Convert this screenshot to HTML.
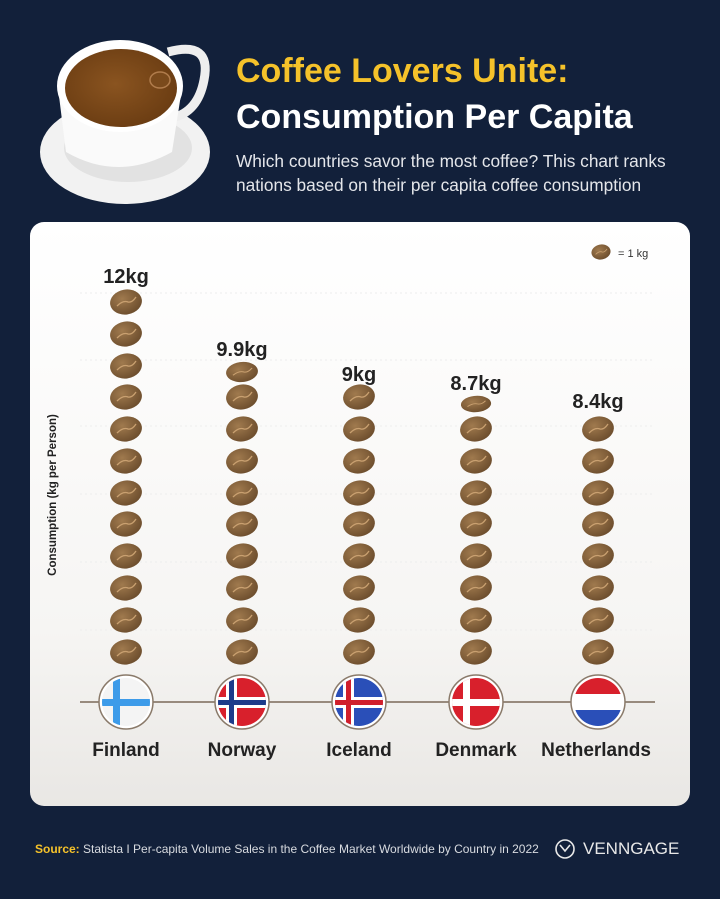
<!DOCTYPE html>
<html><head><meta charset="utf-8"><style>
*{margin:0;padding:0;box-sizing:border-box}
body{width:720px;height:899px;background:#12203a;font-family:"Liberation Sans",sans-serif;position:relative;overflow:hidden}
.t{position:absolute;white-space:nowrap}
</style></head><body>
<svg class="t" style="left:0;top:0" width="720" height="899">
<defs>
<radialGradient id="bean" cx="40%" cy="35%" r="70%"><stop offset="0" stop-color="#a07a4e"/><stop offset="1" stop-color="#6b4c2c"/></radialGradient>
<linearGradient id="card" x1="0" y1="0" x2="0" y2="1"><stop offset="0" stop-color="#ffffff"/><stop offset="0.7" stop-color="#f6f5f3"/><stop offset="1" stop-color="#e9e7e4"/></linearGradient>
<radialGradient id="cof" cx="45%" cy="45%" r="60%"><stop offset="0" stop-color="#8a5420"/><stop offset="1" stop-color="#6a3c12"/></radialGradient>
<g id="b"><ellipse cx="0" cy="0" rx="16" ry="12.5" fill="url(#bean)" transform="rotate(-10)"/><path d="M-9 4 Q-3 -2 2 0 Q6 1 10 -5" stroke="#c9a070" stroke-width="1.3" fill="none"/></g>
</defs>
<!-- cup -->
<ellipse cx="125" cy="152" rx="85" ry="52" fill="#f2f2f2"/>
<ellipse cx="128" cy="148" rx="64" ry="34" fill="#e2e2e2"/>
<path d="M168 52 Q212 40 204 80 Q198 112 172 118" stroke="#eeeeee" stroke-width="9" fill="none"/>
<path d="M58 88 L66 152 Q118 182 172 152 L182 88 Z" fill="#fafafa"/>
<ellipse cx="120" cy="86" rx="63" ry="46" fill="#ffffff"/>
<ellipse cx="121" cy="88" rx="56" ry="39" fill="url(#cof)"/>
<ellipse cx="160" cy="80" rx="10" ry="8" fill="#7a4a1c" stroke="#b07c4c" stroke-width="1.5"/>
<!-- card -->
<rect x="30" y="222" width="660" height="584" rx="14" fill="url(#card)"/>
<g stroke="#ededed" stroke-dasharray="2 3">
<line x1="80" y1="293" x2="655" y2="293"/><line x1="80" y1="360" x2="655" y2="360"/><line x1="80" y1="426" x2="655" y2="426"/><line x1="80" y1="494" x2="655" y2="494"/><line x1="80" y1="562" x2="655" y2="562"/><line x1="80" y1="630" x2="655" y2="630"/>
</g>
<line x1="80" y1="702" x2="655" y2="702" stroke="#7a6a5a" stroke-width="1.5"/>
<!-- legend -->
<use href="#b" transform="translate(601,252) scale(0.6)"/>
<!-- beans -->
<g>
<use href="#b" x="126" y="302"/><use href="#b" x="126" y="334"/><use href="#b" x="126" y="366"/><use href="#b" x="126" y="397"/><use href="#b" x="126" y="429"/><use href="#b" x="126" y="461"/><use href="#b" x="126" y="493"/><use href="#b" x="126" y="524"/><use href="#b" x="126" y="556"/><use href="#b" x="126" y="588"/><use href="#b" x="126" y="620"/><use href="#b" x="126" y="652"/>
</g>
<g transform="translate(116,0)"><use href="#b" x="126" y="397"/><use href="#b" x="126" y="429"/><use href="#b" x="126" y="461"/><use href="#b" x="126" y="493"/><use href="#b" x="126" y="524"/><use href="#b" x="126" y="556"/><use href="#b" x="126" y="588"/><use href="#b" x="126" y="620"/><use href="#b" x="126" y="652"/></g>
<use href="#b" transform="translate(242,372) scale(1,0.8)"/>
<g transform="translate(233,0)"><use href="#b" x="126" y="397"/><use href="#b" x="126" y="429"/><use href="#b" x="126" y="461"/><use href="#b" x="126" y="493"/><use href="#b" x="126" y="524"/><use href="#b" x="126" y="556"/><use href="#b" x="126" y="588"/><use href="#b" x="126" y="620"/><use href="#b" x="126" y="652"/></g>
<g transform="translate(350,0)"><use href="#b" x="126" y="429"/><use href="#b" x="126" y="461"/><use href="#b" x="126" y="493"/><use href="#b" x="126" y="524"/><use href="#b" x="126" y="556"/><use href="#b" x="126" y="588"/><use href="#b" x="126" y="620"/><use href="#b" x="126" y="652"/></g>
<use href="#b" transform="translate(476,404) scale(0.95,0.65)"/>
<g transform="translate(472,0)"><use href="#b" x="126" y="429"/><use href="#b" x="126" y="461"/><use href="#b" x="126" y="493"/><use href="#b" x="126" y="524"/><use href="#b" x="126" y="556"/><use href="#b" x="126" y="588"/><use href="#b" x="126" y="620"/><use href="#b" x="126" y="652"/></g>
<!-- flags -->
<defs>
<clipPath id="c1"><circle cx="126" cy="702" r="24"/></clipPath>
<clipPath id="c2"><circle cx="242" cy="702" r="24"/></clipPath>
<clipPath id="c3"><circle cx="359" cy="702" r="24"/></clipPath>
<clipPath id="c4"><circle cx="476" cy="702" r="24"/></clipPath>
<clipPath id="c5"><circle cx="598" cy="702" r="24"/></clipPath>
</defs>
<g stroke="#8a7a6a" stroke-width="1.5" fill="#fff"><circle cx="126" cy="702" r="27"/><circle cx="242" cy="702" r="27"/><circle cx="359" cy="702" r="27"/><circle cx="476" cy="702" r="27"/><circle cx="598" cy="702" r="27"/></g>
<g clip-path="url(#c1)"><rect x="100" y="676" width="52" height="52" fill="#f4f4f4"/><rect x="113" y="676" width="7" height="52" fill="#3d9be9"/><rect x="100" y="699" width="52" height="7" fill="#3d9be9"/></g>
<g clip-path="url(#c2)"><rect x="216" y="676" width="52" height="52" fill="#d8202c"/><rect x="226" y="676" width="11" height="52" fill="#fff"/><rect x="216" y="697" width="52" height="11" fill="#fff"/><rect x="229" y="676" width="5" height="52" fill="#1d3b8a"/><rect x="216" y="700" width="52" height="5" fill="#1d3b8a"/></g>
<g clip-path="url(#c3)"><rect x="333" y="676" width="52" height="52" fill="#2a4fb8"/><rect x="343" y="676" width="11" height="52" fill="#fff"/><rect x="333" y="697" width="52" height="11" fill="#fff"/><rect x="346" y="676" width="5" height="52" fill="#d01f2c"/><rect x="333" y="700" width="52" height="5" fill="#d01f2c"/></g>
<g clip-path="url(#c4)"><rect x="450" y="676" width="52" height="52" fill="#d8202c"/><rect x="463" y="676" width="7" height="52" fill="#fff"/><rect x="450" y="699" width="52" height="7" fill="#fff"/></g>
<g clip-path="url(#c5)"><rect x="572" y="676" width="52" height="18" fill="#d8202c"/><rect x="572" y="694" width="52" height="16" fill="#fff"/><rect x="572" y="710" width="52" height="18" fill="#2a4fb8"/></g>
<!-- labels -->
<g font-family="Liberation Sans" font-weight="bold" font-size="20" fill="#222" text-anchor="middle">
<text x="126" y="283">12kg</text><text x="242" y="356">9.9kg</text><text x="359" y="381">9kg</text><text x="476" y="390">8.7kg</text><text x="598" y="408">8.4kg</text>
<text x="126" y="756" font-size="19">Finland</text><text x="242" y="756" font-size="19">Norway</text><text x="359" y="756" font-size="19">Iceland</text><text x="476" y="756" font-size="19">Denmark</text><text x="596" y="756" font-size="19">Netherlands</text>
</g>
<text x="0" y="0" transform="translate(56,495) rotate(-90)" text-anchor="middle" font-family="Liberation Sans" font-weight="bold" font-size="11.5" fill="#222">Consumption (kg per Person)</text>
<text x="618" y="257" font-family="Liberation Sans" font-size="11" fill="#333">= 1 kg</text>
<!-- logo -->
<circle cx="565" cy="849" r="9" stroke="#e8e8e8" stroke-width="1.6" fill="none"/>
<path d="M560 845 L565 851 L570 845" stroke="#e8e8e8" stroke-width="1.6" fill="none"/>
</svg>
<div class="t" style="left:236px;top:52px;font-size:34px;font-weight:bold;color:#f5c22a">Coffee Lovers Unite:</div>
<div class="t" style="left:236px;top:98px;font-size:34px;font-weight:bold;color:#fff">Consumption Per Capita</div>
<div class="t" style="left:236px;top:149px;font-size:17.3px;line-height:24px;color:#e4e6ea">Which countries savor the most coffee? This chart ranks<br>nations based on their per capita coffee consumption</div>
<div class="t" style="left:35px;top:842px;font-size:12px;color:#d8dbe0"><b style="color:#f5c22a">Source:</b> Statista I Per-capita Volume Sales in the Coffee Market Worldwide by Country in 2022</div>
<div class="t" style="left:583px;top:839px;font-size:17px;color:#e8e8e8">VENNGAGE</div>
</body></html>
